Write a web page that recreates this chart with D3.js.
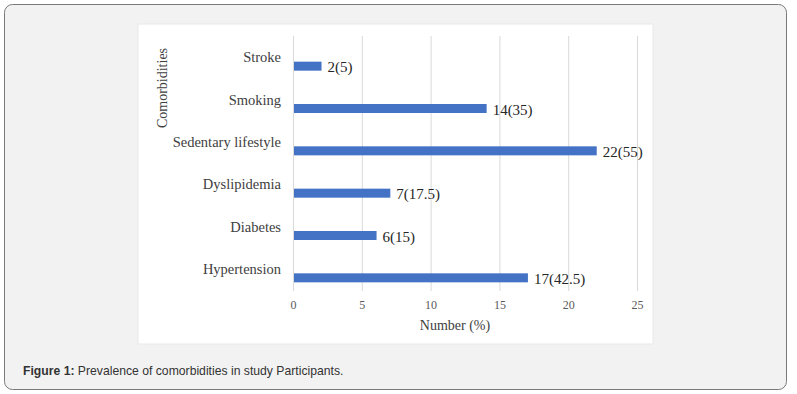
<!DOCTYPE html>
<html>
<head>
<meta charset="utf-8">
<script src="https://cdn.jsdelivr.net/npm/d3@7"></script>
<style>
  body { margin: 0; background: #fff; }
  svg { display: block; }
</style>
</head>
<body>
<svg width="797" height="394"></svg>
<script>
const categories = ["Stroke", "Smoking", "Sedentary lifestyle", "Dyslipidemia", "Diabetes", "Hypertension"];
const counts = [2, 14, 22, 7, 6, 17];
const percents = ["5", "35", "55", "17.5", "15", "42.5"];
const xTicks = [0, 5, 10, 15, 20, 25];

const data = categories.map((c, i) => ({ name: c, value: counts[i], pct: percents[i] }));

const svg = d3.select("svg");

// outer frame
svg.append("rect")
    .attr("x", 4.5).attr("y", 4.5)
    .attr("width", 782).attr("height", 385)
    .attr("rx", 8)
    .attr("fill", "#f2f2f2")
    .attr("stroke", "#7a7a7a");

// white chart panel
svg.append("rect")
    .attr("x", 138).attr("y", 24)
    .attr("width", 515).attr("height", 320)
    .attr("fill", "#fff")
    .attr("stroke", "#e8e8e8");

// scales
const xScale = d3.scaleLinear()
    .domain([0, 25])
    .range([293, 637]);

const yScale = d3.scaleBand()
    .domain(categories)
    .range([36, 290]);

const serif = "'Liberation Serif', 'Times New Roman', serif";

// gridlines
svg.append("g")
    .selectAll("line")
    .data(xTicks)
    .join("line")
    .attr("x1", d => xScale(d) + 0.5)
    .attr("x2", d => xScale(d) + 0.5)
    .attr("y1", 36)
    .attr("y2", 291)
    .attr("stroke", "#d9d9d9")
    .attr("stroke-width", 1);

// x axis labels
const xAxis = d3.axisBottom(xScale)
    .tickValues(xTicks)
    .tickSize(0)
    .tickPadding(0);

const gx = svg.append("g")
    .attr("transform", "translate(0, 300)")
    .call(xAxis);
gx.select(".domain").remove();
gx.selectAll("text")
    .attr("font-family", serif)
    .attr("font-size", 12)
    .attr("fill", "#595959")
    .attr("dy", "0.71em");

// category labels
svg.append("g")
    .selectAll("text")
    .data(categories)
    .join("text")
    .attr("x", 281)
    .attr("y", d => yScale(d) + yScale.bandwidth() / 2)
    .attr("text-anchor", "end")
    .attr("dominant-baseline", "central")
    .attr("font-family", serif)
    .attr("font-size", 14.5)
    .attr("fill", "#404040")
    .text(d => d);

// bars
const barH = 9;
const barOffset = 4.5;

svg.append("g")
    .selectAll("rect")
    .data(data)
    .join("rect")
    .attr("x", xScale(0) + 1)
    .attr("y", d => yScale(d.name) + yScale.bandwidth() / 2 + barOffset)
    .attr("width", d => xScale(d.value) - xScale(0))
    .attr("height", barH)
    .attr("fill", "#4472c4");

// value labels
svg.append("g")
    .selectAll("text")
    .data(data)
    .join("text")
    .attr("x", d => xScale(d.value) + 7)
    .attr("y", d => yScale(d.name) + yScale.bandwidth() / 2 + barOffset + barH / 2 + 1)
    .attr("dominant-baseline", "central")
    .attr("font-family", serif)
    .attr("font-size", 15)
    .attr("fill", "#262626")
    .text(d => `${d.value}(${d.pct})`);

// x axis title
svg.append("text")
    .attr("x", 455)
    .attr("y", 325)
    .attr("text-anchor", "middle")
    .attr("dominant-baseline", "central")
    .attr("font-family", serif)
    .attr("font-size", 14)
    .attr("fill", "#404040")
    .text("Number (%)");

// y axis title
svg.append("text")
    .attr("transform", "translate(162, 88) rotate(-90)")
    .attr("text-anchor", "middle")
    .attr("dominant-baseline", "central")
    .attr("font-family", serif)
    .attr("font-size", 14)
    .attr("fill", "#404040")
    .text("Comorbidities");

// caption
const caption = svg.append("text")
    .attr("x", 23)
    .attr("y", 375)
    .attr("font-family", "'Liberation Sans', Arial, sans-serif")
    .attr("font-size", 12.2)
    .attr("fill", "#333");
caption.append("tspan")
    .attr("font-weight", "bold")
    .text("Figure 1:");
caption.append("tspan")
    .text(" Prevalence of comorbidities in study Participants.");
</script>
</body>
</html>
